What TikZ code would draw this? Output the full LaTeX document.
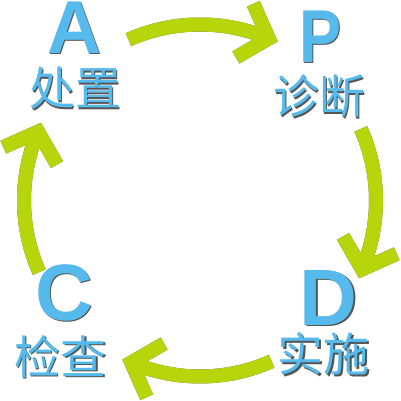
\documentclass[tikz,border=0pt]{standalone}
\usepackage{fontspec}
\setmainfont{Liberation Sans}
\newfontfamily\cjk{Noto Sans CJK SC}
\usetikzlibrary{calc}
\definecolor{pdgreen}{RGB}{182,213,10}
\definecolor{pdblue}{RGB}{86,186,236}
\definecolor{shad}{RGB}{85,85,85}
\newcommand\shtext[1]{\makebox[0pt][l]{\smash{\hspace{1.5pt}\raisebox{-1.5pt}{\textcolor{shad}{#1}}}}#1}
\begin{document}
\begin{tikzpicture}[x=1pt,y=1pt,
  cyc/.style={line width=14pt, line cap=butt, line join=miter},
  big/.style={text=pdblue, inner sep=0pt, font=\fontsize{75}{75}\selectfont\bfseries},
  zh/.style={text=pdblue, inner sep=0pt, font=\fontsize{46}{46}\selectfont\cjk}]
\fill[white] (0,0) rectangle (400,401);
\useasboundingbox (0,0) rectangle (400,401);
\coordinate (O) at (200,200.5);
\foreach \col/\dx/\dy in {shad/1.5/-1.5, pdgreen/0/0}{
  \begin{scope}[xshift=\dx, yshift=\dy]
  \foreach \k in {0,1,2,3}{
    \pgfmathsetmacro\s{114-90*\k}
    \pgfmathsetmacro\e{67-90*\k}
    \coordinate (S\k) at ($(O)+(\s:176)$);
    \coordinate (V\k) at ($(O)+(\e:176)$);
    \draw[cyc, draw=\col] (S\k) arc[start angle=\s, end angle=\e, radius=176];
    \draw[cyc, draw=\col] ($(V\k)+(\e+47:38)$) -- (V\k) -- ($(V\k)+(\e+143:38)$);
  }
  \end{scope}}
\node[big] (A) at (74.5,373.5) {\shtext{A}};
\node[zh] (Azh) at (75,312.5) {\shtext{处置}};
\node[big, xscale=0.84] (P) at (320.5,364.5) {\shtext{P}};
\node[zh] (Pzh) at (319,304.5) {\shtext{诊断}};
\node[big, font=\fontsize{80}{80}\selectfont\bfseries] (C) at (64,108.5) {\shtext{C}};
\node[zh] (Czh) at (60.5,44.5) {\shtext{检查}};
\node[big, font=\fontsize{80}{80}\selectfont\bfseries] (D) at (328.5,103.5) {\shtext{D}};
\node[zh] (Dzh) at (323.5,47) {\shtext{实施}};
\end{tikzpicture}
\end{document}
